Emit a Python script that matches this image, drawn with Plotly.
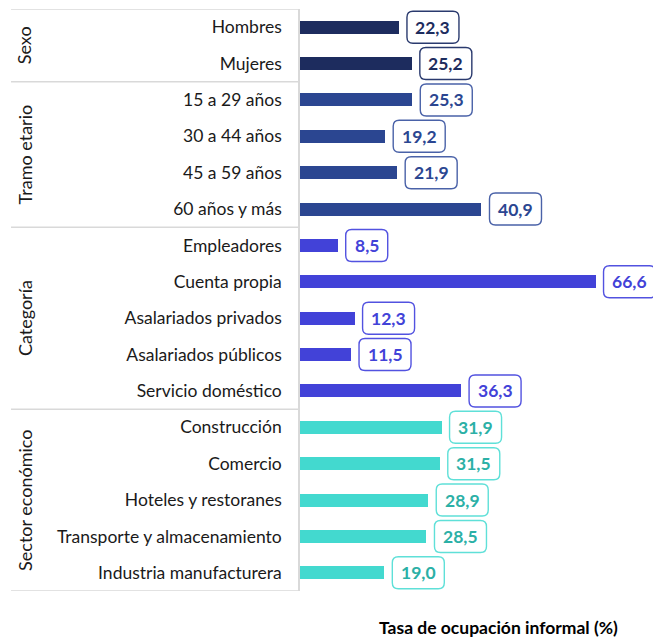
import plotly.graph_objects as go

categories = ["Hombres", "Mujeres",
              "15 a 29 años", "30 a 44 años", "45 a 59 años", "60 años y más",
              "Empleadores", "Cuenta propia", "Asalariados privados", "Asalariados públicos", "Servicio doméstico",
              "Construcción", "Comercio", "Hoteles y restoranes", "Transporte y almacenamiento", "Industria manufacturera"]
values = [22.3, 25.2,
          25.3, 19.2, 21.9, 40.9,
          8.5, 66.6, 12.3, 11.5, 36.3,
          31.9, 31.5, 28.9, 28.5, 19.0]
groups = ["Sexo"] * 2 + ["Tramo etario"] * 4 + ["Categoría"] * 5 + ["Sector económico"] * 5
group_names = ["Sexo", "Tramo etario", "Categoría", "Sector económico"]
axis_title = "Tasa de ocupación informal (%)"

bar_colors = {"Sexo": "#1d2c5e", "Tramo etario": "#2b4691", "Categoría": "#4242d8", "Sector económico": "#43d9cf"}
text_colors = {"Sexo": "#1d2c5e", "Tramo etario": "#2b4691", "Categoría": "#4242d8", "Sector económico": "#2bb0a6"}
border_colors = {"Sexo": "#2a3a6e", "Tramo etario": "#4a62a8", "Categoría": "#5252e0", "Sector económico": "#5fe0d8"}

FONT = "Lato"
idx = list(range(len(categories)))

fig = go.Figure()
fig.add_trace(go.Bar(
    x=values, y=idx, orientation="h",
    marker=dict(color=[bar_colors[g] for g in groups], line=dict(width=0)),
    width=0.36, hoverinfo="skip"))

shapes = []
annotations = []
gap = 8
half_h = 16
r = 6
for i, (v, g) in enumerate(zip(values, groups)):
    label = f"{v:.1f}".replace(".", ",")
    w = 12 + 10 * len(label)
    x0, x1 = gap, gap + w
    y0, y1 = -half_h, half_h
    path = (f"M {x0 + r},{y0} L {x1 - r},{y0} Q {x1},{y0} {x1},{y0 + r} "
            f"L {x1},{y1 - r} Q {x1},{y1} {x1 - r},{y1} L {x0 + r},{y1} "
            f"Q {x0},{y1} {x0},{y1 - r} L {x0},{y0 + r} Q {x0},{y0} {x0 + r},{y0} Z")
    shapes.append(dict(type="path", xref="x", yref="y", xsizemode="pixel", ysizemode="pixel",
                       xanchor=v, yanchor=i, path=path,
                       line=dict(color=border_colors[g], width=1.4), fillcolor="white", layer="above"))
    annotations.append(dict(x=v, y=i, xref="x", yref="y", text=f"<b>{label}</b>", showarrow=False,
                            xshift=gap + w / 2, xanchor="center", yanchor="middle",
                            font=dict(family=FONT, size=17.5, color=text_colors[g])))

# group separators and labels
bounds = [-0.5]
start = 0
for gname in group_names:
    n = groups.count(gname)
    end = start + n
    bounds.append(end - 0.5)
    annotations.append(dict(x=-0.775, y=(start + end - 1) / 2, xref="paper", yref="y", text=gname,
                            showarrow=False, textangle=-90, xanchor="center", yanchor="middle",
                            font=dict(family=FONT, size=18, color="#1a1a1a")))
    start = end
for b in bounds:
    shapes.append(dict(type="line", xref="paper", yref="y", x0=-0.814, x1=0, y0=b, y1=b,
                       line=dict(color="#d9d9d9", width=1.5), layer="below"))

annotations.append(dict(x=0.558, y=-0.063, xref="paper", yref="paper", text=f"<b>{axis_title}</b>",
                        showarrow=False, xanchor="center", yanchor="middle",
                        font=dict(family=FONT, size=17.5, color="#000000")))

# the page body has an 8px margin, so the figure is sized and offset to compensate
fig.update_layout(
    width=653, height=629,
    margin=dict(l=292, r=6, t=1, b=46),
    plot_bgcolor="white", paper_bgcolor="white",
    showlegend=False, bargap=0,
    shapes=shapes, annotations=annotations,
    xaxis=dict(range=[0, 80], visible=False, fixedrange=True),
    yaxis=dict(range=[15.5, -0.5], tickmode="array", tickvals=idx, ticktext=categories,
               showline=True, linecolor="#d9d9d9", linewidth=1.5, showgrid=False, zeroline=False,
               ticks="", ticklabelstandoff=13,
               tickfont=dict(family=FONT, size=17.5, color="#1a1a1a")),
)

fig.write_html("out.html")
